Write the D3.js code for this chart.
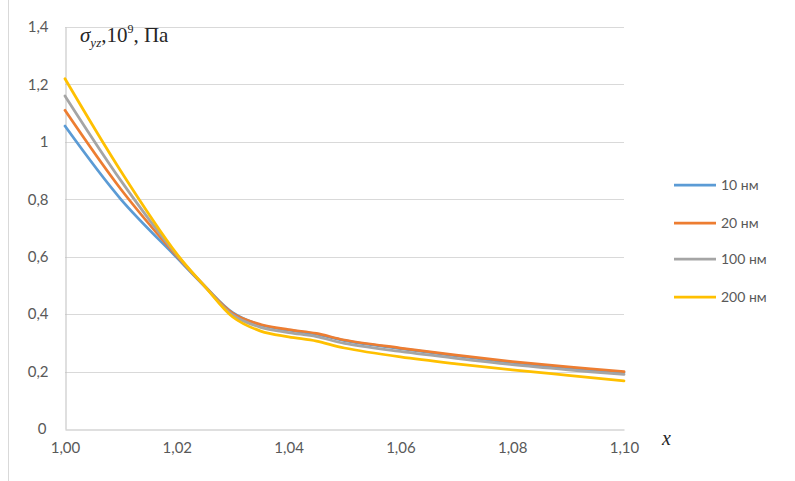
<!DOCTYPE html>
<html><head><meta charset="utf-8">
<script src="https://cdn.jsdelivr.net/npm/d3@7"></script>
<style>body{margin:0;background:#fff}svg{display:block}</style>
</head><body><svg id="c" width="795" height="481"></svg>
<script>
const xValues = [1.00, 1.01, 1.02, 1.025, 1.03, 1.035, 1.04, 1.045, 1.05, 1.06, 1.07, 1.08, 1.09, 1.10];
const s10  = [1.055, 0.80, 0.597, 0.497, 0.405, 0.362, 0.344, 0.330, 0.308, 0.280, 0.255, 0.232, 0.213, 0.197];
const s20  = [1.110, 0.835, 0.602, 0.497, 0.403, 0.364, 0.346, 0.333, 0.310, 0.282, 0.257, 0.235, 0.216, 0.200];
const s100 = [1.160, 0.865, 0.606, 0.497, 0.397, 0.354, 0.336, 0.322, 0.298, 0.270, 0.246, 0.224, 0.206, 0.190];
const s200 = [1.220, 0.898, 0.610, 0.497, 0.390, 0.341, 0.321, 0.306, 0.282, 0.251, 0.227, 0.206, 0.187, 0.168];
const seriesNames = ["10 нм", "20 нм", "100 нм", "200 нм"];
const seriesColors = ["#5B9BD5", "#ED7D31", "#A5A5A5", "#FFC000"];
const yTicks = [0, 0.2, 0.4, 0.6, 0.8, 1, 1.2, 1.4];
const xTicks = [1.00, 1.02, 1.04, 1.06, 1.08, 1.10];
const allSeries = [s10, s20, s100, s200];

const svg = d3.select("#c");
const L = 65, R = 624, T = 27, B = 429;
const x = d3.scaleLinear().domain([1.00, 1.10]).range([L, R]);
const y = d3.scaleLinear().domain([0, 1.4]).range([B, T]);
const font = "Lato, 'Open Sans', sans-serif";

// outer frame left edge
svg.append("line").attr("x1", 8.5).attr("x2", 8.5).attr("y1", 0).attr("y2", 481)
  .attr("stroke", "#d9d9d9").attr("stroke-width", 1);

// gridlines
svg.append("g").selectAll("line").data(yTicks.filter(d => d > 0)).join("line")
  .attr("x1", L).attr("x2", R).attr("y1", d => Math.round(y(d)) + 0.5).attr("y2", d => Math.round(y(d)) + 0.5)
  .attr("stroke", "#d9d9d9").attr("stroke-width", 1);

// y axis
const yAxis = svg.append("g").attr("transform", `translate(${L + 0.5},0)`)
  .call(d3.axisLeft(y).tickValues(yTicks).tickSize(0).tickPadding(17)
    .tickFormat(d => d3.format(".1f")(d).replace(/\.0$/, "").replace(".", ",")));
yAxis.select(".domain").attr("stroke", "#bfbfbf");
yAxis.selectAll("text").attr("fill", "#595959").attr("font-size", 15).attr("font-family", font);
yAxis.selectAll(".tick").filter(d => d === 0).select("text").attr("dx", -2);

// x axis
const xAxis = svg.append("g").attr("transform", `translate(0,${B + 0.5})`)
  .call(d3.axisBottom(x).tickValues(xTicks).tickSize(0).tickPadding(13)
    .tickFormat(d => d3.format(".2f")(d).replace(".", ",")));
xAxis.select(".domain").attr("stroke", "#bfbfbf");
xAxis.selectAll("text").attr("fill", "#595959").attr("font-size", 15).attr("font-family", font);

// lines
const line = d3.line().x((d, i) => x(xValues[i])).y(d => y(d)).curve(d3.curveCatmullRom.alpha(0.5));
svg.append("g").selectAll("path").data(allSeries).join("path")
  .attr("d", d => line(d)).attr("fill", "none")
  .attr("stroke", (d, i) => seriesColors[i]).attr("stroke-width", 2.75)
  .attr("stroke-linejoin", "round").attr("stroke-linecap", "round");

// legend
const leg = svg.append("g");
const legY = [185, 223, 259, 297];
seriesNames.forEach((n, i) => {
  leg.append("line").attr("x1", 674).attr("x2", 716).attr("y1", legY[i]).attr("y2", legY[i])
    .attr("stroke", seriesColors[i]).attr("stroke-width", 2.75);
  leg.append("text").attr("x", 721).attr("y", legY[i]).attr("dy", "0.35em")
    .attr("fill", "#595959").attr("font-size", 14).attr("font-family", font).text(n);
});

// axis titles
const t = svg.append("text").attr("x", 80).attr("y", 42)
  .attr("font-family", "'Liberation Serif', 'DejaVu Serif', serif").attr("font-size", 21).attr("fill", "#262626");
t.append("tspan").attr("font-style", "italic").text("σ");
t.append("tspan").attr("font-style", "italic").attr("font-size", 13).attr("dy", 5).text("yz");
t.append("tspan").attr("dy", -5).text(",10");
t.append("tspan").attr("font-size", 12).attr("dy", -9).text("9");
t.append("tspan").attr("dy", 9).text(",  Па");

svg.append("text").attr("x", 662).attr("y", 445)
  .attr("font-family", "'Liberation Serif', serif").attr("font-style", "italic")
  .attr("font-size", 20).attr("fill", "#262626").text("x");
</script></body></html>
